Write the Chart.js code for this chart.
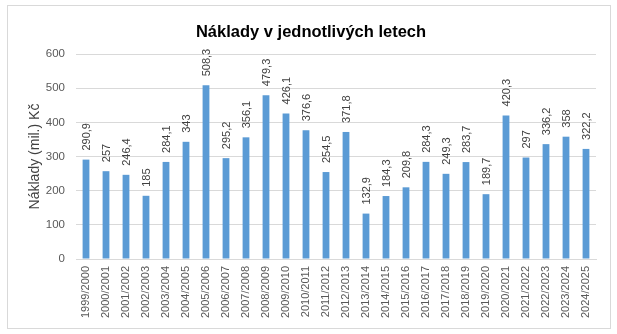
<!DOCTYPE html>
<html lang="cs">
<head>
<meta charset="utf-8">
<title>Náklady v jednotlivých letech</title>
<script src="https://cdn.jsdelivr.net/npm/chart.js@4/dist/chart.umd.min.js"></script>
<style>
  html, body { margin: 0; padding: 0; background: #ffffff; }
  #wrap { position: relative; width: 617px; height: 334px; }
</style>
</head>
<body>
<div id="wrap"><canvas id="chart" width="617" height="334"></canvas></div>
<script>
// School years
const categories = [
  '1999/2000', '2000/2001', '2001/2002', '2002/2003', '2003/2004', '2004/2005',
  '2005/2006', '2006/2007', '2007/2008', '2008/2009', '2009/2010', '2010/2011',
  '2011/2012', '2012/2013', '2013/2014', '2014/2015', '2015/2016', '2016/2017',
  '2017/2018', '2018/2019', '2019/2020', '2020/2021', '2021/2022', '2022/2023',
  '2023/2024', '2024/2025'
];

// Costs in millions of CZK
const costs = [
  290.9, 257, 246.4, 185, 284.1, 343,
  508.3, 295.2, 356.1, 479.3, 426.1, 376.6,
  254.5, 371.8, 132.9, 184.3, 209.8, 284.3,
  249.3, 283.7, 189.7, 420.3, 297, 336.2,
  358, 322.2
];

const yTicks = [0, 100, 200, 300, 400, 500, 600];

const chartTitle = 'Náklady v jednotlivých letech';
const yAxisTitle = 'Náklady (mil.) Kč';

const fmt = v => String(v).replace('.', ',');

// White background and thin frame around the whole chart
const framePlugin = {
  id: 'frame',
  beforeDraw(chart) {
    const ctx = chart.ctx;
    ctx.save();
    ctx.fillStyle = '#ffffff';
    ctx.fillRect(0, 0, chart.width, chart.height);
    ctx.strokeStyle = '#d9d9d9';
    ctx.lineWidth = 1;
    ctx.strokeRect(7.5, 5.5, 603, 323);
    ctx.restore();
  }
};

// Chart heading, centred on the frame
const headingPlugin = {
  id: 'heading',
  afterDraw(chart) {
    const ctx = chart.ctx;
    ctx.save();
    ctx.font = 'bold 16.5px "Liberation Sans", Arial, sans-serif';
    ctx.fillStyle = '#000000';
    ctx.textAlign = 'center';
    ctx.textBaseline = 'middle';
    ctx.fillText(chartTitle, 311, 32);
    ctx.restore();
  }
};

// Vertical value labels above each bar
const valueLabelPlugin = {
  id: 'valueLabels',
  afterDatasetsDraw(chart) {
    const ctx = chart.ctx;
    const meta = chart.getDatasetMeta(0);
    const data = chart.data.datasets[0].data;
    ctx.save();
    ctx.font = '11px "Liberation Sans", Arial, sans-serif';
    ctx.fillStyle = '#404040';
    ctx.textAlign = 'left';
    ctx.textBaseline = 'middle';
    meta.data.forEach((bar, i) => {
      ctx.save();
      ctx.translate(bar.x + 1, bar.y - 9);
      ctx.rotate(-Math.PI / 2);
      ctx.fillText(fmt(data[i]), 0, 0);
      ctx.restore();
    });
    ctx.restore();
  }
};

new Chart(document.getElementById('chart'), {
  type: 'bar',
  data: {
    labels: categories,
    datasets: [{
      data: costs,
      backgroundColor: '#5b9bd5',
      borderWidth: 0,
      barPercentage: 0.34,
      categoryPercentage: 1.0
    }]
  },
  options: {
    responsive: false,
    animation: false,
    devicePixelRatio: 1,
    layout: { padding: { left: 7, right: 21, top: 54, bottom: 5 } },
    plugins: {
      legend: { display: false },
      title: { display: false },
      tooltip: { enabled: false }
    },
    scales: {
      x: {
        grid: { display: false, drawTicks: false },
        border: { display: true, color: '#d9d9d9' },
        ticks: {
          color: '#595959',
          font: { family: '"Liberation Sans", Arial, sans-serif', size: 11 },
          maxRotation: 90,
          minRotation: 90,
          autoSkip: false,
          padding: 7
        },
        afterFit(scale) { scale.height = 70; }
      },
      y: {
        min: 0,
        max: 600,
        afterBuildTicks(scale) { scale.ticks = yTicks.map(v => ({ value: v })); },
        grid: { color: '#d9d9d9', drawTicks: false },
        border: { display: false },
        ticks: {
          color: '#595959',
          font: { family: '"Liberation Sans", Arial, sans-serif', size: 11.5 },
          padding: 11
        },
        title: {
          display: true,
          text: yAxisTitle,
          color: '#404040',
          font: { family: '"Liberation Sans", Arial, sans-serif', size: 14 },
          padding: { top: 20, bottom: 0 }
        },
        afterFit(scale) { scale.width = 69; }
      }
    }
  },
  plugins: [framePlugin, headingPlugin, valueLabelPlugin]
});
</script>
</body>
</html>
